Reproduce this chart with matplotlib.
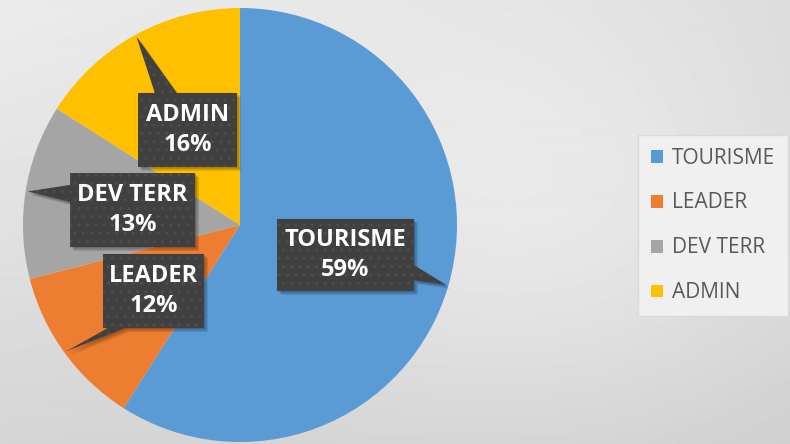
import numpy as np
import matplotlib
matplotlib.use("Agg")
import matplotlib.pyplot as plt
from matplotlib.patches import Polygon

# Budget split by programme
categories = ["TOURISME", "LEADER", "DEV TERR", "ADMIN"]
shares = [59, 12, 13, 16]
colors = ["#5B9BD5", "#ED7D31", "#A5A5A5", "#FFC000"]

# Callout layout (pie-radius units, relative to the pie centre)
label_layout = {
    "TOURISME": dict(center=(0.486, -0.138), size=(0.631, 0.332), side="right", span=(0.64, 0.85)),
    "LEADER": dict(center=(-0.399, -0.304), size=(0.465, 0.341), side="bottom", span=(0.05, 0.22)),
    "DEV TERR": dict(center=(-0.495, 0.069), size=(0.576, 0.341), side="left", span=(0.16, 0.39)),
    "ADMIN": dict(center=(-0.242, 0.438), size=(0.456, 0.341), side="top", span=(0.17, 0.39)),
}

W, H = 790, 444
fig = plt.figure(figsize=(W / 100, H / 100), dpi=100)

# soft grey backdrop
bg = fig.add_axes([0, 0, 1, 1], zorder=0)
yy, xx = np.mgrid[0:H, 0:W]
u = xx / (W - 1)
v = yy / (H - 1)
base = (0.925 * (1 - u) * (1 - v) + 0.847 * u * (1 - v)
        + 0.835 * (1 - u) * v + 0.80 * u * v)
glow = 0.07 * np.exp(-(((xx - 560) / 220) ** 2 + ((yy - 220) / 160) ** 2) / 2)
img = np.clip(base + glow, 0, 1)
bg.imshow(img, cmap="gray", vmin=0, vmax=1, extent=(0, W, 0, H),
          aspect="auto", interpolation="bilinear")
bg.set_xlim(0, W)
bg.set_ylim(0, H)
bg.axis("off")

# pie axes: one data unit == pie radius
R, PCX, PCY = 217.0, 240.0, 225.0
ax = fig.add_axes([0, 0, 1, 1], zorder=1)
ax.patch.set_visible(False)
wedges, _ = ax.pie(shares, colors=colors, startangle=90, counterclock=False,
                   radius=1, center=(0, 0),
                   wedgeprops=dict(linewidth=0))
ax.set_xlim(-PCX / R, (W - PCX) / R)
ax.set_ylim(-(H - PCY) / R, PCY / R)
ax.set_aspect("auto")
ax.axis("off")


def callout_vertices(center, size, side, span, tip):
    cx, cy = center
    w, h = size
    x0, x1 = cx - w / 2, cx + w / 2
    y0, y1 = cy - h / 2, cy + h / 2
    a, b = span
    pts = [(x0, y1)]
    if side == "top":
        pts += [(x0 + a * w, y1), tip, (x0 + b * w, y1)]
    pts.append((x1, y1))
    if side == "right":
        pts += [(x1, y1 - a * h), tip, (x1, y1 - b * h)]
    pts.append((x1, y0))
    if side == "bottom":
        pts += [(x0 + b * w, y0), tip, (x0 + a * w, y0)]
    pts.append((x0, y0))
    if side == "left":
        pts += [(x0, y1 - b * h), tip, (x0, y1 - a * h)]
    return np.array(pts)


total = float(sum(shares))
start = 90.0
for name, share in zip(categories, shares):
    sweep = 360.0 * share / total
    mid = np.deg2rad(start - sweep / 2)
    start -= sweep
    tip = (0.99 * np.cos(mid), 0.99 * np.sin(mid))
    lay = label_layout[name]
    verts = callout_vertices(lay["center"], lay["size"], lay["side"], lay["span"], tip)

    # drop shadow
    for k, alpha in enumerate([0.12, 0.12, 0.12]):
        off = 0.006 * (k + 1)
        ax.add_patch(Polygon(verts + np.array([off, -off]), closed=True,
                             facecolor="black", edgecolor="none", alpha=alpha, zorder=3))
    ax.add_patch(Polygon(verts, closed=True, facecolor="#404040",
                         edgecolor="none", zorder=4))
    ax.add_patch(Polygon(verts, closed=True, facecolor="none", edgecolor="#4d4d4d",
                         linewidth=0, hatch="..", zorder=4.5))
    ax.text(lay["center"][0], lay["center"][1], f"{name}\n{share}%",
            ha="center", va="center", color="white", fontsize=17,
            fontweight="bold", family=["Open Sans", "DejaVu Sans"],
            linespacing=1.3, zorder=5)

leg = ax.legend(wedges, categories, loc="upper left",
                bbox_to_anchor=(638 / W, 1 - 135 / H), bbox_transform=fig.transFigure,
                borderaxespad=0, frameon=True, fancybox=False,
                facecolor="#f0f0f0", edgecolor="#dadada", framealpha=1,
                handlelength=0.58, handleheight=0.58, handletextpad=0.45,
                labelspacing=1.15, borderpad=0.6,
                prop=dict(family=["Open Sans", "DejaVu Sans"], size=15))
for t in leg.get_texts():
    t.set_color("#595959")

fig.savefig("out.png", dpi=100)
